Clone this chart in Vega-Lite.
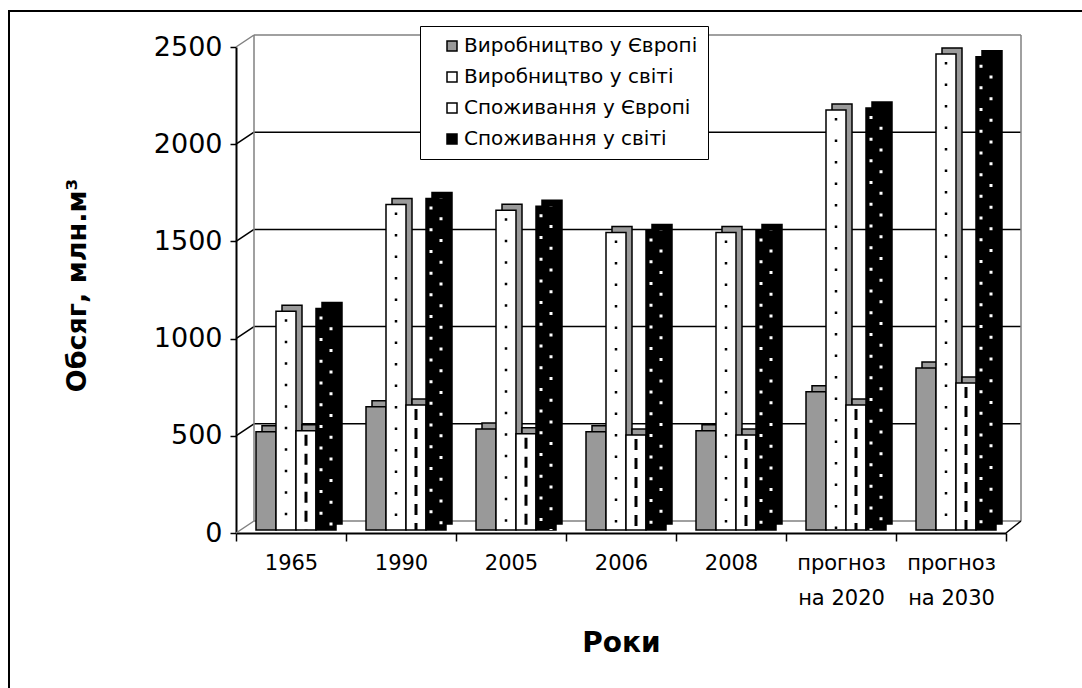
{
  "$schema": "https://vega.github.io/schema/vega-lite/v6.json",
  "width": 1076,
  "height": 680,
  "autosize": {"type": "none"},
  "padding": {"left": 9, "top": 11, "right": -3, "bottom": -3},
  "background": "white",
  "config": {
    "font": "DejaVu Sans",
    "view": {"stroke": "black", "strokeWidth": 2, "fill": "white"}
  },
  "datasets": {
    "bars": [
      {"cat": "1965", "s": "Виробництво у Європі", "v": 505},
      {"cat": "1965", "s": "Виробництво у світі", "v": 1125},
      {"cat": "1965", "s": "Споживання у Європі", "v": 510},
      {"cat": "1965", "s": "Споживання у світі", "v": 1140},
      {"cat": "1990", "s": "Виробництво у Європі", "v": 634},
      {"cat": "1990", "s": "Виробництво у світі", "v": 1675},
      {"cat": "1990", "s": "Споживання у Європі", "v": 643},
      {"cat": "1990", "s": "Споживання у світі", "v": 1705},
      {"cat": "2005", "s": "Виробництво у Європі", "v": 520},
      {"cat": "2005", "s": "Виробництво у світі", "v": 1645},
      {"cat": "2005", "s": "Споживання у Європі", "v": 495},
      {"cat": "2005", "s": "Споживання у світі", "v": 1665},
      {"cat": "2006", "s": "Виробництво у Європі", "v": 506},
      {"cat": "2006", "s": "Виробництво у світі", "v": 1530},
      {"cat": "2006", "s": "Споживання у Європі", "v": 489},
      {"cat": "2006", "s": "Споживання у світі", "v": 1540},
      {"cat": "2008", "s": "Виробництво у Європі", "v": 511},
      {"cat": "2008", "s": "Виробництво у світі", "v": 1530},
      {"cat": "2008", "s": "Споживання у Європі", "v": 489},
      {"cat": "2008", "s": "Споживання у світі", "v": 1540},
      {"cat": "прогноз на 2020", "s": "Виробництво у Європі", "v": 711},
      {"cat": "прогноз на 2020", "s": "Виробництво у світі", "v": 2160},
      {"cat": "прогноз на 2020", "s": "Споживання у Європі", "v": 643},
      {"cat": "прогноз на 2020", "s": "Споживання у світі", "v": 2171},
      {"cat": "прогноз на 2030", "s": "Виробництво у Європі", "v": 833},
      {"cat": "прогноз на 2030", "s": "Виробництво у світі", "v": 2449},
      {"cat": "прогноз на 2030", "s": "Споживання у Європі", "v": 756},
      {"cat": "прогноз на 2030", "s": "Споживання у світі", "v": 2435}
    ],
    "grid": [{"v": 500}, {"v": 1000}, {"v": 1500}, {"v": 2000}],
    "edge": [{"v": 0}, {"v": 2500}],
    "wall": [{"lo": 0, "hi": 2500}]
  },
  "resolve": {"scale": {"xOffset": "independent"}},
  "layer": [
    {
      "data": {"name": "edge"},
      "mark": {"type": "rule", "color": "#808080", "strokeWidth": 1.5, "xOffset": -37, "x2Offset": 70, "yOffset": -12, "y2Offset": -12},
      "encoding": {
        "x": {"datum": "1965", "type": "nominal"},
        "x2": {"datum": "прогноз на 2030"},
        "y": {"field": "v", "type": "quantitative"},
        "y2": {"field": "v"}
      }
    },
    {
      "data": {"name": "edge"},
      "mark": {"type": "rule", "color": "#808080", "strokeWidth": 1.5, "xOffset": -55, "x2Offset": -37, "yOffset": 0, "y2Offset": -12},
      "encoding": {
        "x": {"datum": "1965", "type": "nominal"},
        "x2": {"datum": "1965"},
        "y": {"field": "v", "type": "quantitative"},
        "y2": {"field": "v"}
      }
    },
    {
      "data": {"name": "grid"},
      "mark": {"type": "rule", "color": "black", "strokeWidth": 1.5, "xOffset": -37, "x2Offset": 70, "yOffset": -12, "y2Offset": -12},
      "encoding": {
        "x": {"datum": "1965", "type": "nominal"},
        "x2": {"datum": "прогноз на 2030"},
        "y": {"field": "v", "type": "quantitative"},
        "y2": {"field": "v"}
      }
    },
    {
      "data": {"name": "grid"},
      "mark": {"type": "rule", "color": "black", "strokeWidth": 1.5, "xOffset": -55, "x2Offset": -37, "yOffset": 0, "y2Offset": -12},
      "encoding": {
        "x": {"datum": "1965", "type": "nominal"},
        "x2": {"datum": "1965"},
        "y": {"field": "v", "type": "quantitative"},
        "y2": {"field": "v"}
      }
    },
    {
      "data": {"name": "wall"},
      "mark": {"type": "rule", "color": "#808080", "strokeWidth": 1.5, "xOffset": -37, "yOffset": -12, "y2Offset": -12},
      "encoding": {
        "x": {"datum": "1965", "type": "nominal"},
        "y": {"field": "hi", "type": "quantitative"},
        "y2": {"field": "lo"}
      }
    },
    {
      "data": {"name": "wall"},
      "mark": {"type": "rule", "color": "#808080", "strokeWidth": 1.5, "xOffset": 70, "yOffset": -12, "y2Offset": -12},
      "encoding": {
        "x": {"datum": "прогноз на 2030", "type": "nominal"},
        "y": {"field": "hi", "type": "quantitative"},
        "y2": {"field": "lo"}
      }
    },
    {
      "data": {"name": "wall"},
      "mark": {"type": "rule", "color": "black", "strokeWidth": 1.5, "xOffset": 55, "x2Offset": 70, "yOffset": 0, "y2Offset": -12},
      "encoding": {
        "x": {"datum": "прогноз на 2030", "type": "nominal"},
        "x2": {"datum": "прогноз на 2030"},
        "y": {"field": "lo", "type": "quantitative"},
        "y2": {"field": "lo"}
      }
    },
    {
      "data": {"name": "bars"},
      "mark": {"type": "bar", "stroke": "black", "strokeWidth": 1.5, "yOffset": -9, "y2Offset": -9},
      "encoding": {
        "x": {
          "field": "cat", "type": "nominal",
          "scale": {"domain": ["1965", "1990", "2005", "2006", "2008", "прогноз на 2020", "прогноз на 2030"], "range": [227, 997], "paddingInner": 0, "paddingOuter": 0},
          "axis": {
            "orient": "bottom", "offset": -158, "tickBand": "extent", "tickSize": 8, "tickColor": "black", "tickWidth": 1.5,
            "domainColor": "black", "domainWidth": 2, "labelAngle": 0, "labelAlign": "center", "labelFont": "DejaVu Sans", "labelFontSize": 21, "labelColor": "black",
            "labelPadding": 11, "labelBaseline": "top", "labelLineHeight": 35, "labelOverlap": false, "labelFlush": false,
            "labelExpr": "split(replace(datum.label, ' на ', '|на '), '|')",
            "title": "Роки", "titleFont": "DejaVu Sans", "titleFontSize": 28, "titleFontWeight": "bold", "titleColor": "black",
            "titleX": 612, "titleY": 118, "titleBaseline": "alphabetic", "titleAlign": "center", "grid": false
          }
        },
        "xOffset": {"field": "s", "type": "nominal", "scale": {"domain": ["Виробництво у Європі", "Виробництво у світі", "Споживання у Європі", "Споживання у світі"], "range": [26, 106], "paddingInner": 0, "paddingOuter": 0}},
        "y": {
          "field": "v", "type": "quantitative",
          "scale": {"domain": [0, 2500], "range": [522, 36], "nice": false},
          "axis": {
            "orient": "left", "offset": -227, "values": [0, 500, 1000, 1500, 2000, 2500], "format": "d", "tickSize": 6, "tickColor": "black", "tickWidth": 1.5,
            "domainColor": "black", "domainWidth": 2, "labelFont": "DejaVu Sans", "labelFontSize": 27, "labelColor": "black", "labelPadding": 8,
            "title": "Обсяг, млн.м³", "titleFont": "DejaVu Sans", "titleFontSize": 27, "titleFontWeight": "bold", "titleColor": "black",
            "titleX": -145, "titleY": 274, "titleAngle": -90, "titleBaseline": "bottom", "titleAlign": "center", "grid": false
          }
        },
        "fill": {"condition": {"test": "datum.s === 'Споживання у світі'", "value": "black"}, "value": "#9a9a9a"}
      }
    },
    {
      "data": {"name": "bars"},
      "mark": {"type": "bar", "stroke": "black", "strokeWidth": 1.5, "yOffset": -3, "y2Offset": -3},
      "encoding": {
        "x": {"field": "cat", "type": "nominal"},
        "xOffset": {"field": "s", "type": "nominal", "scale": {"domain": ["Виробництво у Європі", "Виробництво у світі", "Споживання у Європі", "Споживання у світі"], "range": [20, 100], "paddingInner": 0, "paddingOuter": 0}},
        "y": {"field": "v", "type": "quantitative"},
        "color": {
          "field": "s", "type": "nominal",
          "scale": {"domain": ["Виробництво у Європі", "Виробництво у світі", "Споживання у Європі", "Споживання у світі"], "range": ["#999999", "#ffffff", "#ffffff", "#000000"]},
          "legend": {
            "title": null, "orient": "none", "legendX": 411, "legendY": 15, "direction": "vertical",
            "symbolType": "square", "symbolSize": 100, "symbolStrokeColor": "black", "symbolStrokeWidth": 1.5,
            "labelFont": "DejaVu Sans", "labelFontSize": 20, "labelColor": "black", "labelOffset": 2, "symbolOffset": 12, "labelLimit": 400,
            "strokeColor": "black", "fillColor": "white", "padding": 10, "rowPadding": 11
          }
        }
      }
    },
    {
      "data": {"name": "bars"},
      "transform": [{"filter": "datum.s === 'Виробництво у світі'"}],
      "mark": {"type": "rule", "color": "black", "strokeWidth": 2.5, "strokeDash": [2.5, 19], "strokeDashOffset": -8, "yOffset": -3, "y2Offset": -3},
      "encoding": {
        "x": {"field": "cat", "type": "nominal"},
        "xOffset": {"field": "s", "type": "nominal", "scale": {"domain": ["Виробництво у Європі", "Виробництво у світі", "Споживання у Європі", "Споживання у світі"], "range": [20, 100], "paddingInner": 0, "paddingOuter": 0}},
        "y": {"field": "v", "type": "quantitative"},
        "y2": {"datum": 0}
      }
    },
    {
      "data": {"name": "bars"},
      "transform": [{"filter": "datum.s === 'Споживання у Європі'"}],
      "mark": {"type": "rule", "color": "black", "strokeWidth": 3, "strokeDash": [11, 8], "strokeDashOffset": -4, "yOffset": -3, "y2Offset": -3},
      "encoding": {
        "x": {"field": "cat", "type": "nominal"},
        "xOffset": {"field": "s", "type": "nominal", "scale": {"domain": ["Виробництво у Європі", "Виробництво у світі", "Споживання у Європі", "Споживання у світі"], "range": [20, 100], "paddingInner": 0, "paddingOuter": 0}},
        "y": {"field": "v", "type": "quantitative"},
        "y2": {"datum": 0}
      }
    },
    {
      "data": {"name": "bars"},
      "transform": [{"filter": "datum.s === 'Споживання у світі'"}],
      "mark": {"type": "rule", "color": "white", "strokeWidth": 3, "strokeDash": [3, 18.7], "strokeDashOffset": -8, "yOffset": -3, "y2Offset": -3},
      "encoding": {
        "x": {"field": "cat", "type": "nominal"},
        "xOffset": {"field": "s", "type": "nominal", "scale": {"domain": ["Виробництво у Європі", "Виробництво у світі", "Споживання у Європі", "Споживання у світі"], "range": [15, 95], "paddingInner": 0, "paddingOuter": 0}},
        "y": {"field": "v", "type": "quantitative"},
        "y2": {"datum": 0}
      }
    },
    {
      "data": {"name": "bars"},
      "transform": [{"filter": "datum.s === 'Споживання у світі'"}],
      "mark": {"type": "rule", "color": "white", "strokeWidth": 3, "strokeDash": [3, 18.7], "strokeDashOffset": -18.8, "yOffset": -3, "y2Offset": -3},
      "encoding": {
        "x": {"field": "cat", "type": "nominal"},
        "xOffset": {"field": "s", "type": "nominal", "scale": {"domain": ["Виробництво у Європі", "Виробництво у світі", "Споживання у Європі", "Споживання у світі"], "range": [25, 105], "paddingInner": 0, "paddingOuter": 0}},
        "y": {"field": "v", "type": "quantitative"},
        "y2": {"datum": 0}
      }
    }
  ]
}
